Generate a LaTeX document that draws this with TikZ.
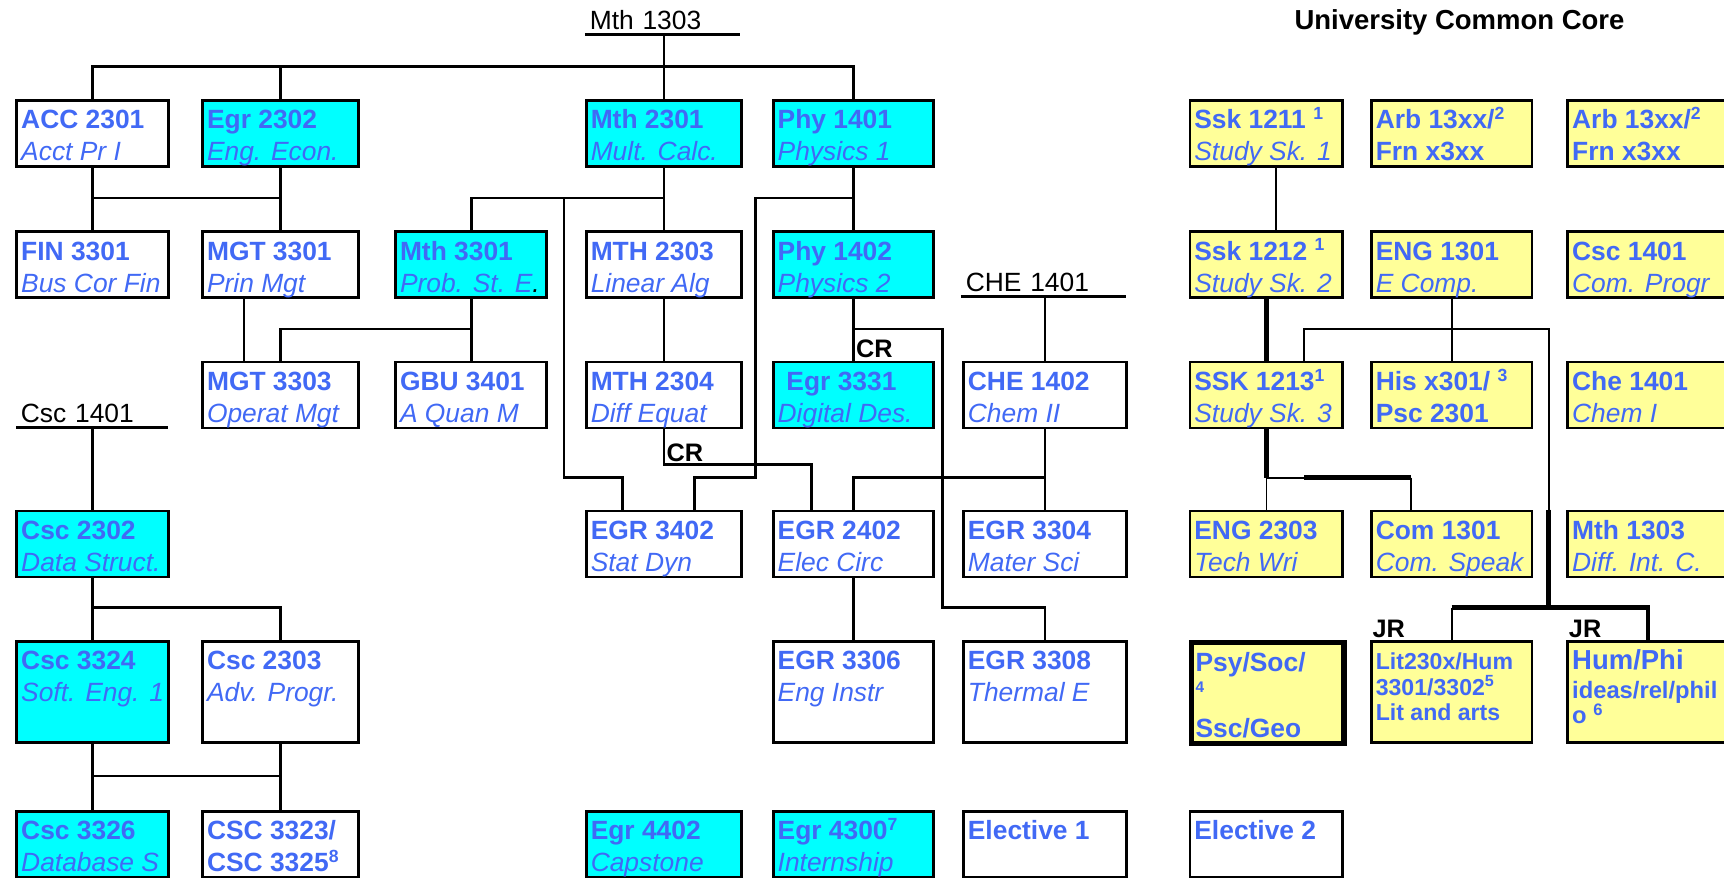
\documentclass[tikz,border=0pt]{standalone}
\usepackage{fontspec}
\setmainfont{Liberation Sans}
\definecolor{crsblue}{RGB}{65,105,245}
\definecolor{reqcyan}{RGB}{0,255,255}
\definecolor{coreyellow}{RGB}{255,255,153}
\newcommand{\cc}[1]{\textbf{#1}}
\newcommand{\cn}[1]{\textit{#1}}
\newcommand{\bx}[3]{\parbox[t][#2][t]{#1}{\raggedright\leftskip=2pt\rule{0pt}{13pt}#3}}

\tikzset{
  crs/.style={draw, line width=1.3pt, anchor=north west, inner sep=0pt, text=crsblue, font=\fontsize{12}{14.5}\selectfont},
  req/.style={crs, fill=reqcyan},
  core/.style={crs, fill=coreyellow},
  pre/.style={anchor=south west, inner xsep=2pt, inner ysep=2pt, align=left, font=\fontsize{12}{14.5}\selectfont},
  tag/.style={anchor=south west, inner sep=1pt, font=\fontsize{11.5}{13}\selectfont\bfseries},
  link/.style={line width=1.2pt},
  thinlink/.style={line width=0.8pt},
  thicklink/.style={line width=2.2pt}
}

\begin{document}
\begin{tikzpicture}[x=0.5pt,y=-0.5pt]
    \useasboundingbox (0,0) rectangle (1568,798);

    % Bus levels between the rows
    \coordinate (b1) at (0,60.6);
    \coordinate (b2) at (0,180);
    \coordinate (b3) at (0,299.3);
    \coordinate (b4) at (0,434.5);
    \coordinate (b5) at (0,552.7);
    \coordinate (b6) at (0,705.8);

    % Titles and prerequisites
    \node[anchor=base west, inner sep=0pt, font=\fontsize{12.5}{15}\selectfont\bfseries] (ucc) at (1177,27) {University Common Core};
    \node[pre, text width=66pt] (mth1303) at (532,31.5) {Mth 1303};
    \node[pre, text width=70.5pt] (che1401) at (874,269.5) {CHE 1401};
    \node[pre, text width=64.5pt] (csc1401) at (14.6,389) {Csc 1401};

    % Row 1
    \node[crs] (acc2301) at (14,90) {\bx{69pt}{30pt}{\cc{ACC 2301}\\\cn{Acct Pr I}}};
    \node[req] (egr2302) at (183,90) {\bx{71pt}{30pt}{\cc{Egr 2302}\\\cn{Eng. Econ.}}};
    \node[req] (mth2301) at (532,90) {\bx{70.5pt}{30pt}{\cc{Mth 2301}\\\cn{Mult. Calc.}}};
    \node[req] (phy1401) at (702,90) {\bx{73pt}{30pt}{\cc{Phy 1401}\\\cn{Physics 1}}};
    \node[core] (ssk1211) at (1081,90) {\bx{69.5pt}{30pt}{\cc{Ssk 1211 \textsuperscript{1}}\\\cn{Study Sk. 1}}};
    \node[core] (arb1) at (1246,90) {\bx{73pt}{30pt}{\cc{Arb 13xx/\textsuperscript{2}}\\\cc{Frn x3xx}}};
    \node[core] (arb2) at (1424.6,90) {\bx{73pt}{30pt}{\cc{Arb 13xx/\textsuperscript{2}}\\\cc{Frn x3xx}}};

    % Row 2
    \node[crs] (fin3301) at (14,209.5) {\bx{69pt}{30pt}{\cc{FIN 3301}\\\cn{Bus Cor Fin}}};
    \node[crs] (mgt3301) at (183,209.5) {\bx{71pt}{30pt}{\cc{MGT 3301}\\\cn{Prin Mgt}}};
    \node[req] (mth3301) at (358.5,209.5) {\bx{68.75pt}{30pt}{\cc{Mth 3301}\\\cn{Prob. St. E{\color{black}.}}}};
    \node[crs] (mth2303) at (532,209.5) {\bx{70.5pt}{30pt}{\cc{MTH 2303}\\\cn{Linear Alg}}};
    \node[req] (phy1402) at (702,209.5) {\bx{73pt}{30pt}{\cc{Phy 1402}\\\cn{Physics 2}}};
    \node[core] (ssk1212) at (1081,209.5) {\bx{69.5pt}{30pt}{\cc{Ssk 1212 \textsuperscript{1}}\\\cn{Study Sk. 2}}};
    \node[core] (eng1301) at (1246,209.5) {\bx{73pt}{30pt}{\cc{ENG 1301}\\\cn{E Comp.}}};
    \node[core] (csc1401c) at (1424.6,209.5) {\bx{73pt}{30pt}{\cc{Csc 1401}\\\cn{Com. Progr}}};

    % Row 3
    \node[crs] (mgt3303) at (183,328) {\bx{71pt}{30pt}{\cc{MGT 3303}\\\cn{Operat Mgt}}};
    \node[crs] (gbu3401) at (358.5,328) {\bx{68.75pt}{30pt}{\cc{GBU 3401}\\\cn{A Quan M}}};
    \node[crs] (mth2304) at (532,328) {\bx{70.5pt}{30pt}{\cc{MTH 2304}\\\cn{Diff Equat}}};
    \node[req] (egr3331) at (702,328) {\bx{73pt}{30pt}{\cc{\hspace{4pt}Egr 3331}\\\cn{Digital Des.}}};
    \node[crs] (che1402) at (875,328) {\bx{74pt}{30pt}{\cc{CHE 1402}\\\cn{Chem II}}};
    \node[core] (ssk1213) at (1081,328) {\bx{69.5pt}{30pt}{\cc{SSK 1213\textsuperscript{1}}\\\cn{Study Sk. 3}}};
    \node[core] (his) at (1246,328) {\bx{73pt}{30pt}{\cc{His x301/ \textsuperscript{3}}\\\cc{Psc 2301}}};
    \node[core] (che1401c) at (1424.6,328) {\bx{73pt}{30pt}{\cc{Che 1401}\\\cn{Chem I}}};

    % Row 4
    \node[req] (csc2302) at (14,463.5) {\bx{69pt}{30pt}{\cc{Csc 2302}\\\cn{Data Struct.}}};
    \node[crs] (egr3402) at (532,463.5) {\bx{70.5pt}{30pt}{\cc{EGR 3402}\\\cn{Stat Dyn}}};
    \node[crs] (egr2402) at (702,463.5) {\bx{73pt}{30pt}{\cc{EGR 2402}\\\cn{Elec Circ}}};
    \node[crs] (egr3304) at (875,463.5) {\bx{74pt}{30pt}{\cc{EGR 3304}\\\cn{Mater Sci}}};
    \node[core] (eng2303) at (1081,463.5) {\bx{69.5pt}{30pt}{\cc{ENG 2303}\\\cn{Tech Wri}}};
    \node[core] (com1301) at (1246,463.5) {\bx{73pt}{30pt}{\cc{Com 1301}\\\cn{Com. Speak}}};
    \node[core] (mth1303c) at (1424.6,463.5) {\bx{73pt}{30pt}{\cc{Mth 1303}\\\cn{Diff. Int. C.}}};

    % Row 5
    \node[req] (csc3324) at (14,582) {\bx{69pt}{46pt}{\cc{Csc 3324}\\\cn{Soft. Eng. 1}}};
    \node[crs] (csc2303) at (183,582) {\bx{71pt}{46pt}{\cc{Csc 2303}\\\cn{Adv. Progr.}}};
    \node[crs] (egr3306) at (702,582) {\bx{73pt}{46pt}{\cc{EGR 3306}\\\cn{Eng Instr}}};
    \node[crs] (egr3308) at (875,582) {\bx{74pt}{46pt}{\cc{EGR 3308}\\\cn{Thermal E}}};
    \node[core, line width=2.4pt] (psy) at (1081,582) {\bx{69.5pt}{46pt}{\cc{Psy/Soc/}\\[-4.75pt]{\fontsize{7}{8}\selectfont\bfseries 4}\\[6pt]\cc{Ssc/Geo}}};
    \node[core] (lit) at (1246,582) {\bx{73pt}{46pt}{\fontsize{10.5}{11.6}\selectfont\bfseries Lit230x/Hum\\3301/3302\textsuperscript{5}\\Lit and arts}};
    \node[core] (hum) at (1424.6,582) {\bx{73pt}{46pt}{\cc{\fontsize{12.5}{14}\selectfont Hum/Phi}\\[1.5pt]\fontsize{10.8}{11.5}\selectfont\bfseries ideas/rel/phil\\o \textsuperscript{6}}};

    % Row 6
    \node[req] (csc3326) at (14,736.5) {\bx{69pt}{30pt}{\cc{Csc 3326}\\\cn{Database S}}};
    \node[crs] (csc3323) at (183,736.5) {\bx{71pt}{30pt}{\cc{CSC 3323/}\\\cc{CSC 3325\textsuperscript{8}}}};
    \node[req] (egr4402) at (532,736.5) {\bx{70.5pt}{30pt}{\cc{Egr 4402}\\\cn{Capstone}}};
    \node[req] (egr4300) at (702,736.5) {\bx{73pt}{30pt}{\cc{Egr 4300\textsuperscript{7}}\\\cn{Internship}}};
    \node[crs] (elec1) at (875,736.5) {\bx{74pt}{30pt}{\cc{Elective 1}}};
    \node[crs] (elec2) at (1081,736.5) {\bx{69.5pt}{30pt}{\cc{Elective 2}}};

    % Underlines of the prerequisites
    \draw[link] (mth1303.south west) -- (mth1303.south east);
    \draw[link] (che1401.south west) -- (che1401.south east);
    \draw[link] (csc1401.south west) -- (csc1401.south east);

    % Mth 1303 feeds the first row
    \draw[link] (mth2301.north) -- (mth2301.north |- mth1303.south);
    \draw[link] (acc2301.north) |- (b1 -| phy1401.north) -- (phy1401.north);
    \draw[link] (egr2302.north) -- (egr2302.north |- b1);

    % ACC 2301 and Egr 2302
    \draw[link] (acc2301.south) -- (fin3301.north);
    \draw[link] (egr2302.south) -- (mgt3301.north);
    \draw[link] (acc2301.south |- b2) -- (egr2302.south |- b2);

    % Mth 2301 and Phy 1401
    \coordinate (s1) at (513,180);
    \coordinate (s2) at (687,180);
    \coordinate (e3402l) at ([xshift=-18.9pt]egr3402.north);
    \coordinate (e3402r) at ([xshift=14pt]egr3402.north);
    \draw[link] (mth2301.south) -- (mth2303.north);
    \draw[link] (mth2301.south |- b2) -| (mth3301.north);
    \draw[link] (s1) |- (e3402l |- b4) -- (e3402l);
    \draw[link] (phy1401.south) -- (phy1402.north);
    \draw[link] (phy1401.south |- b2) -- (s2) |- (e3402r |- b4) -- (e3402r);

    % MGT 3303 and GBU 3401
    \draw[link] ([xshift=-16.7pt]mgt3301.south) -- ([xshift=-16.7pt]mgt3303.north);
    \draw[link] (mth3301.south) -- (gbu3401.north);
    \draw[link] (mth3301.south |- b3) -| (mgt3303.north);

    % Linear algebra and differential equations
    \draw[link] (mth2303.south) -- (mth2304.north);
    \draw[link] (mth2304.south) -- ++(0,32) coordinate (crb) -| ([xshift=-19.2pt]egr2402.north);
    \node[tag] (cr2) at (crb) {CR};

    % Phy 1402
    \coordinate (s3) at (857.4,0);
    \draw[link] (phy1402.south) -- (egr3331.north);
    \node[tag] (cr1) at (egr3331.north) {CR};
    \draw[link] (phy1402.south |- b3) -| (s3 |- b5) -| (egr3308.north);

    % Chemistry
    \draw[link] (che1402.north) -- (che1402.north |- che1401.south);
    \draw[link] (che1402.south) -- (egr3304.north);
    \draw[link] (che1402.south |- b4) -| (egr2402.north);
    \draw[link] (egr2402.south) -- (egr3306.north);

    % Computer science
    \draw[link] (csc2302.north) -- (csc2302.north |- csc1401.south);
    \draw[link] (csc2302.south) -- (csc3324.north);
    \draw[link] (csc2302.south |- b5) -| (csc2303.north);
    \draw[link] (csc3324.south) -- (csc3326.north);
    \draw[link] (csc2303.south) -- (csc3323.north);
    \draw[link] (csc3324.south |- b6) -- (csc2303.south |- b6);

    % University common core
    \coordinate (sskr) at ([xshift=17.25pt]ssk1213.north);
    \coordinate (comin) at ([xshift=-18.4pt]com1301.north);
    \coordinate (jrx) at (1408.6,463.5);
    \draw[thinlink] ([xshift=4.5pt]ssk1211.south) -- ([xshift=4.5pt]ssk1212.north);
    \draw[thicklink] (ssk1212.south) -- (ssk1213.north);
    \draw[thinlink] (eng1301.south) -- (his.north);
    \draw[thinlink] (sskr) |- (jrx |- b3) -- (jrx);
    \draw[thicklink] (ssk1213.south) -- (ssk1213.south |- b4);
    \draw[thinlink] (ssk1213.south |- b4) -- (eng2303.north);
    \draw[thinlink] (ssk1213.south |- b4) -- (sskr |- b4);
    \draw[thicklink] (sskr |- b4) -- (comin |- b4);
    \draw[thinlink] (comin |- b4) -- (comin);
    \draw[thicklink] (jrx) -- (jrx |- b5);
    \draw[thicklink] (lit.north |- b5) -| (hum.north);
    \draw[thinlink] (lit.north |- b5) -- (lit.north);
    \node[tag] (jr1) at (lit.north west) {JR};
    \node[tag] (jr2) at (hum.north west) {JR};
\end{tikzpicture}
\end{document}
